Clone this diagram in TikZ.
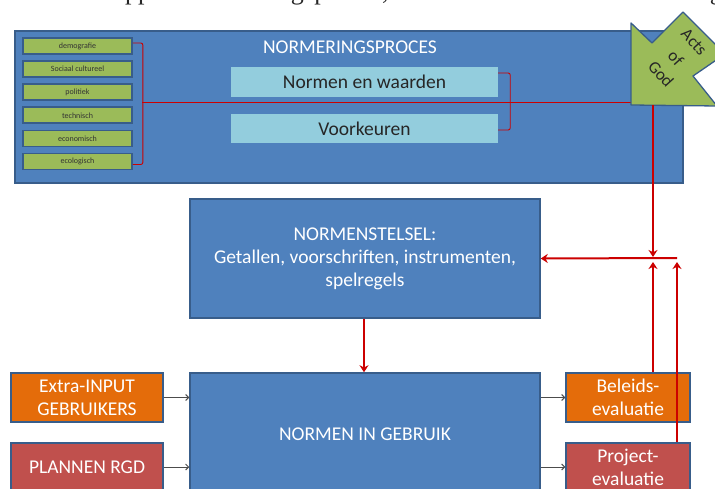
\documentclass[tikz,border=0pt]{standalone}
\usepackage{fontspec}
\setmainfont{Carlito}
\newfontfamily\seriffont{Liberation Serif}
\usetikzlibrary{arrows.meta}
\definecolor{bfill}{HTML}{4F81BD}
\definecolor{bborder}{HTML}{385D8A}
\definecolor{gfill}{HTML}{9BBB59}
\definecolor{lblue}{HTML}{93CDDD}
\definecolor{ofill}{HTML}{E46C0A}
\definecolor{rfill}{HTML}{C0504D}
\definecolor{rline}{HTML}{CC0000}
\begin{document}
\begin{tikzpicture}[x=1pt,y=-1pt,
  box/.style={draw=bborder, line width=1.5pt, fill=#1, text=white, align=center, inner sep=0pt,
    font=\fontsize{19.5}{23}\selectfont},
  box/.default=bfill,
  gbox/.style={draw=bborder, line width=1.6pt, fill=gfill, minimum width=109pt, minimum height=16pt,
    inner sep=0pt, font=\fontsize{8}{8}\selectfont, text=black!80},
  lbox/.style={fill=lblue, minimum width=267pt, minimum height=30pt, inner sep=0pt,
    font=\fontsize{19.5}{19.5}\selectfont, text=black!85},
  actstext/.style={rotate=-48, inner sep=0pt, font=\fontsize{17}{17}\selectfont, text=black!85},
  bracket/.style={draw=rline, line width=0.9pt, rounded corners=2pt},
  redarr/.style={draw=rline, line width=2pt, -{Stealth[length=7pt,width=9pt]}},
  garr/.style={draw=black!70, line width=0.9pt, -{Straight Barb[length=3pt,width=6pt]}}]
\useasboundingbox[fill=white] (0,0) rectangle (715,489);

% clipped line of the surrounding text (only its lower edge is visible)
\node[anchor=base west, inner sep=0pt, font=\seriffont\fontsize{26}{26}\selectfont, text=black!85]
  (toptext) at (10,-0.5) {\spaceskip=10.5pt\relax de drie stappen: normering proces, normenstelsel en normen in gebruik};

% NORMERINGSPROCES
\node[box, minimum width=668pt, minimum height=152pt] (proces) at (349,107) {};
\node[text=white, inner sep=0pt, font=\fontsize{19.5}{19.5}\selectfont] (title) at (350,47) {NORMERINGSPROCES};

\node[gbox] (g1) at (77.5,46) {demografie};
\node[gbox] (g2) at (77.5,69.1) {Sociaal cultureel};
\node[gbox] (g3) at (77.5,92.2) {politiek};
\node[gbox] (g4) at (77.5,115.3) {technisch};
\node[gbox] (g5) at (77.5,138.4) {economisch};
\node[gbox] (g6) at (77.5,161.5) {ecologisch};

\node[lbox] (nw) at (364.5,82) {Normen en waarden};
\node[lbox, minimum height=29pt] (vo) at (364.5,128.5) {Voorkeuren};

\draw[bracket] ([yshift=3pt]g1.east) -| ([xshift=10pt,yshift=-3pt]g6.east) -- ([yshift=-3pt]g6.east);
\draw[bracket] ([yshift=9pt]nw.east) -| ([xshift=12pt,yshift=-1.5pt]vo.east) -- ([yshift=-1.5pt]vo.east);
\coordinate (lbm) at (142,102);
\coordinate (actsW) at (632,102);
\draw[draw=rline, line width=0.9pt] (lbm) -- (actsW);

% Acts of God
\draw[fill=gfill, draw=bborder, line width=1.3pt, line join=round]
  (631,105) -- (631,23) -- (652,43) -- (683,12) -- (725,54) -- (693,76) -- (717,106) -- cycle;
\node[actstext] (acts1) at (694,42) {Acts};
\node[actstext] (acts2) at (676,58) {of};
\node[actstext] (acts3) at (661,74) {God};
\coordinate (actsB) at (653,105);

% NORMENSTELSEL
\node[box, minimum width=350pt, minimum height=119pt] (stelsel) at (365,258.5)
  {NORMENSTELSEL:\\Getallen, voorschriften, instrumenten,\\spelregels};
% NORMEN IN GEBRUIK
\node[box, minimum width=350pt, minimum height=122pt] (gebruik) at (365,434) {NORMEN IN GEBRUIK};

\node[box=ofill, minimum width=152pt, minimum height=49pt] (extra) at (87,397.5) {Extra-INPUT\\GEBRUIKERS};
\node[box=rfill, minimum width=152pt, minimum height=48pt] (plannen) at (87,467) {PLANNEN RGD};
\node[box=ofill, minimum width=124pt, minimum height=49pt] (beleid) at (628,397.5) {Beleids-\\evaluatie};
\node[box=rfill, minimum width=124pt, minimum height=48pt] (project) at (628,467) {Project-\\evaluatie};

\draw[garr] (extra.east) -- (gebruik.west |- extra.east);
\draw[garr] (plannen.east) -- (gebruik.west |- plannen.east);
\draw[garr] (gebruik.east |- beleid.west) -- (beleid.west);
\draw[garr] (gebruik.east |- project.west) -- (project.west);

% red feedback lines
\coordinate (j1) at (653,258);
\coordinate (j2) at (677,258);
\draw[redarr] (j2) -- (stelsel.east);
\draw[redarr] ([xshift=-1pt]stelsel.south) -- ([xshift=-1pt]gebruik.north);
\draw[redarr, shorten >=1pt] (actsB) -- (j1);
\draw[redarr, shorten >=4pt] (j1 |- beleid.north) -- (j1);
\draw[redarr, shorten >=4pt] (j2 |- project.north) -- (j2);
\end{tikzpicture}
\end{document}
